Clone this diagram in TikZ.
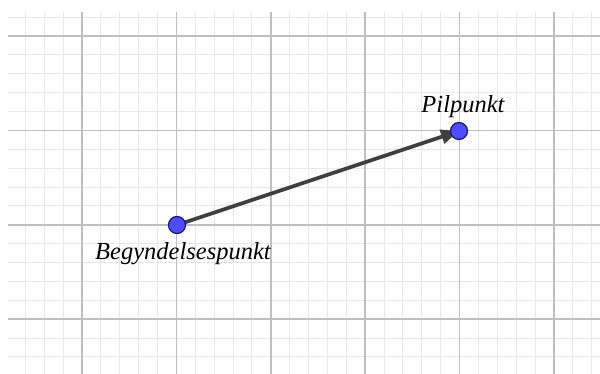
\documentclass[tikz,border=0pt]{standalone}
\usepackage{fontspec}
\setmainfont{Liberation Serif}
\usetikzlibrary{arrows.meta}
\definecolor{minorc}{RGB}{232,232,232}
\definecolor{majorc}{RGB}{192,192,192}
\definecolor{ptfill}{RGB}{77,77,255}
\definecolor{ptdraw}{RGB}{25,25,110}
\definecolor{vecc}{RGB}{64,64,64}
\tikzset{
  minorline/.style={draw=minorc, line width=1pt},
  majorline/.style={draw=majorc, line width=1.5pt},
  ptnode/.style={circle, fill=ptfill, draw=ptdraw, line width=1.2pt, minimum size=17pt, inner sep=0pt},
  vecline/.style={draw=vecc, line width=3.7pt, -{Triangle[length=18pt,width=14pt]}},
  lbl/.style={font=\itshape\fontsize{24.5}{24.5}\selectfont, inner sep=0pt, anchor=base}
}
\begin{document}
\begin{tikzpicture}[x=1pt,y=-1pt]
\useasboundingbox (0,0) rectangle (600,374);
\fill[white] (0,0) rectangle (600,374);
\begin{scope}
\clip (8,12) rectangle (600,374);
\foreach \i in {-5,...,30} { \draw[minorline] ({82+18.88*\i},12) -- ({82+18.88*\i},374); }
\foreach \j in {-2,...,18} { \draw[minorline] (8,{36+18.88*\j}) -- (600,{36+18.88*\j}); }
\foreach \i in {0,...,5} { \draw[majorline] ({82+94.4*\i},12) -- ({82+94.4*\i},374); }
\foreach \j in {0,...,3} { \draw[majorline] (8,{36+94.4*\j}) -- (600,{36+94.4*\j}); }
\end{scope}
\coordinate (A) at (177,225);
\coordinate (B) at (459,131);
\draw[vecline] (A) -- (B);
\node[ptnode] (Ap) at (A) {};
\node[ptnode] (Bp) at (B) {};
\node[lbl] (La) at (183,260) {Begyndelsespunkt};
\node[lbl] (Lb) at (463,113) {Pilpunkt};
\end{tikzpicture}
\end{document}
